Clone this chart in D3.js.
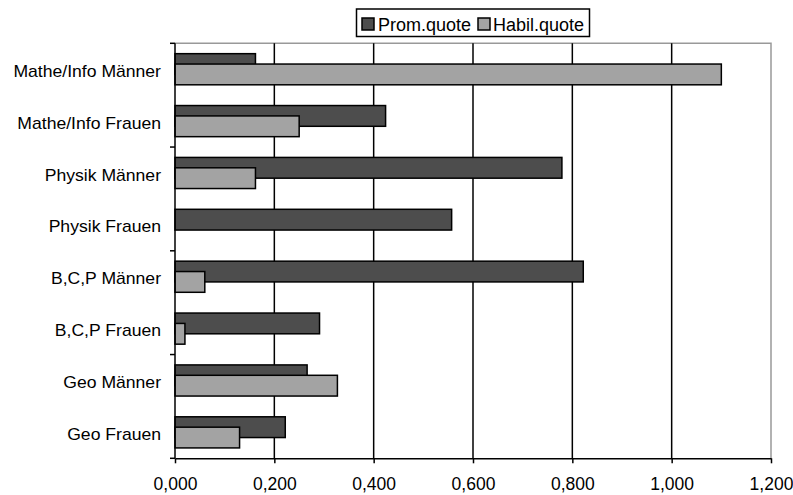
<!DOCTYPE html>
<html><head><meta charset="utf-8">
<script src="https://cdn.jsdelivr.net/npm/d3@7"></script>
<style>html,body{margin:0;padding:0;background:#fff}svg{display:block}text{font-family:"Liberation Sans",Arial,sans-serif;fill:#000}</style>
</head><body><svg id="c" width="793" height="495"></svg>
<script>
const categories = ["Mathe/Info Männer","Mathe/Info Frauen","Physik Männer","Physik Frauen","B,C,P Männer","B,C,P Frauen","Geo Männer","Geo Frauen"];
const promQuote  = [0.162, 0.424, 0.779, 0.557, 0.822, 0.291, 0.266, 0.222];
const habilQuote = [1.100, 0.250, 0.162, 0.000, 0.060, 0.020, 0.327, 0.130];
const seriesNames = ["Prom.quote","Habil.quote"];
const seriesColors = ["#4d4d4d","#a3a3a3"];
const xTicks = [0,0.2,0.4,0.6,0.8,1.0,1.2];

const svg = d3.select("#c");
const L=175, R=771, T=43.3, B=458.3;
const x = d3.scaleLinear().domain([0,1.2]).range([L,R]);
const y = d3.scaleBand().domain(categories).range([T,B]).paddingInner(0).paddingOuter(0);
const fmt = v => d3.format(".3f")(v).replace(".",",");

// plot border (top & right grey)
svg.append("path").attr("d",`M${L},${T}H${R}V${B}`).attr("fill","none").attr("stroke","#999").attr("stroke-width",1.5);
// gridlines
svg.append("g").selectAll("line").data(xTicks.filter(v=>v>0&&v<1.2)).join("line")
  .attr("x1",d=>x(d)).attr("x2",d=>x(d)).attr("y1",T).attr("y2",B)
  .attr("stroke","#000").attr("stroke-width",1.5);

// bars
const bh = y.bandwidth()*0.4;
const series = [promQuote, habilQuote];
series.forEach((vals,si)=>{
  svg.append("g").selectAll("rect").data(categories.map((c,i)=>({c,v:vals[i]})).filter(d=>d.v>0)).join("rect")
    .attr("x",x(0)).attr("width",d=>x(d.v)-x(0))
    .attr("y",d=>y(d.c)+y.bandwidth()/2 - 0.75*bh + si*bh/2).attr("height",bh)
    .attr("fill",seriesColors[si]).attr("stroke","#000").attr("stroke-width",1.5);
});

// x axis
const xa = svg.append("g").attr("transform",`translate(0,${B})`)
  .call(d3.axisBottom(x).tickValues(xTicks).tickFormat(fmt).tickSize(5).tickSizeOuter(0).tickPadding(14));
xa.select(".domain").attr("stroke","#000").attr("stroke-width",1.5);
xa.selectAll(".tick line").attr("stroke","#000").attr("stroke-width",1.5);
xa.selectAll("text").attr("font-size","17.5px").style("font-family",'"Liberation Sans",Arial,sans-serif');

// y axis line + ticks every 2 categories
const ya = svg.append("g");
ya.append("line").attr("x1",L).attr("x2",L).attr("y1",T).attr("y2",B).attr("stroke","#000").attr("stroke-width",1.5);
const boundaries = d3.range(0,categories.length+1,2).map(i=> i<categories.length ? y(categories[i]) : B);
ya.selectAll("line.t").data(boundaries).join("line").attr("class","t")
  .attr("x1",L-5).attr("x2",L).attr("y1",d=>d).attr("y2",d=>d).attr("stroke","#000").attr("stroke-width",1.5);
ya.selectAll("text").data(categories).join("text")
  .attr("x",161).attr("y",d=>y(d)+y.bandwidth()/2+2).attr("dy","0.35em")
  .attr("text-anchor","end").attr("font-size","16px")
  .attr("transform",d=>`translate(161,0) scale(1.1,1) translate(-161,0)`)
  .text(d=>d);

// legend
const lg = svg.append("g");
lg.append("rect").attr("x",356.5).attr("y",9).attr("width",233).attr("height",27.5).attr("fill","#fff").attr("stroke","#000").attr("stroke-width",1.5);
const items=[{n:seriesNames[0],c:seriesColors[0],sx:362,tx:378},{n:seriesNames[1],c:seriesColors[1],sx:478,tx:493}];
items.forEach(it=>{
  lg.append("rect").attr("x",it.sx).attr("y",18).attr("width",12).attr("height",12).attr("fill",it.c).attr("stroke","#000").attr("stroke-width",1.5);
  lg.append("text").attr("x",it.tx).attr("y",31).attr("font-size","18px").text(it.n);
});
</script></body></html>
